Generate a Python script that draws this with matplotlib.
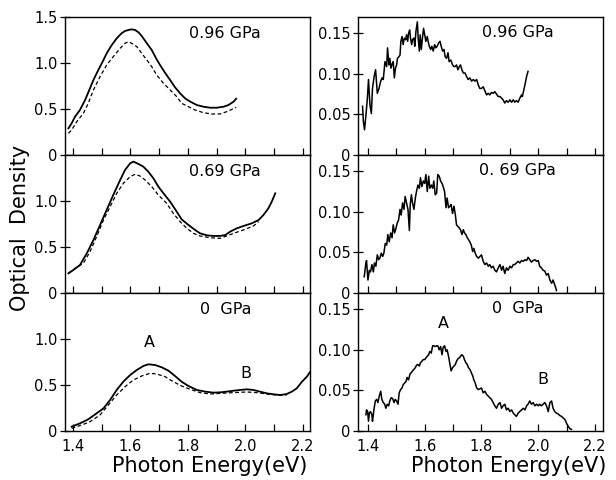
import matplotlib
matplotlib.use("Agg")
import matplotlib.pyplot as plt

plt.rcParams['font.family'] = ['DejaVu Sans']

# ---------------- Left column: optical density (solid / dashed) ----------------
# 0.96 GPa
l96_solid_x = [1.384, 1.395, 1.407, 1.424, 1.442, 1.459, 1.471, 1.488, 1.506, 1.517, 1.535, 1.552, 1.569, 1.581,
               1.593, 1.604, 1.616, 1.628, 1.639, 1.657, 1.674, 1.691, 1.703, 1.720, 1.738, 1.755, 1.773, 1.790,
               1.808, 1.831, 1.854, 1.877, 1.901, 1.924, 1.941, 1.959, 1.968]
l96_solid_y = [0.290, 0.344, 0.417, 0.489, 0.598, 0.725, 0.815, 0.924, 1.033, 1.105, 1.196, 1.268, 1.323, 1.348,
               1.359, 1.366, 1.359, 1.333, 1.294, 1.214, 1.141, 1.040, 0.978, 0.895, 0.815, 0.736, 0.670, 0.616,
               0.580, 0.543, 0.525, 0.514, 0.514, 0.525, 0.543, 0.580, 0.612]
l96_dash_x = [1.384, 1.395, 1.413, 1.436, 1.453, 1.471, 1.494, 1.517, 1.540, 1.564, 1.581, 1.593, 1.604, 1.622,
              1.639, 1.657, 1.674, 1.691, 1.715, 1.738, 1.761, 1.778, 1.802, 1.825, 1.854, 1.883, 1.912, 1.935,
              1.953, 1.968]
l96_dash_y = [0.236, 0.272, 0.362, 0.453, 0.562, 0.707, 0.852, 0.978, 1.069, 1.160, 1.214, 1.232, 1.214, 1.178,
              1.105, 1.033, 0.960, 0.870, 0.779, 0.707, 0.634, 0.562, 0.525, 0.489, 0.460, 0.446, 0.446, 0.471,
              0.496, 0.518]
# 0.69 GPa
l69_solid_x = [1.384, 1.401, 1.424, 1.448, 1.471, 1.494, 1.517, 1.540, 1.564, 1.581, 1.599, 1.610, 1.628, 1.645,
               1.662, 1.680, 1.697, 1.715, 1.738, 1.761, 1.778, 1.802, 1.825, 1.842, 1.866, 1.889, 1.912, 1.930,
               1.947, 1.970, 1.993, 2.022, 2.046, 2.063, 2.080, 2.092, 2.104]
l69_solid_y = [0.214, 0.250, 0.304, 0.431, 0.576, 0.739, 0.902, 1.065, 1.228, 1.337, 1.410, 1.428, 1.402, 1.373,
               1.319, 1.246, 1.156, 1.083, 0.993, 0.884, 0.801, 0.739, 0.685, 0.649, 0.627, 0.620, 0.620, 0.630,
               0.667, 0.703, 0.728, 0.757, 0.793, 0.848, 0.920, 0.993, 1.083]
l69_dash_x = [1.384, 1.407, 1.436, 1.459, 1.482, 1.506, 1.529, 1.552, 1.575, 1.599, 1.616, 1.633, 1.651, 1.674,
              1.697, 1.726, 1.749, 1.773, 1.796, 1.819, 1.842, 1.877, 1.912, 1.935, 1.959, 1.993, 2.028, 2.046]
l69_dash_y = [0.214, 0.268, 0.323, 0.449, 0.612, 0.794, 0.938, 1.083, 1.192, 1.265, 1.290, 1.272, 1.228, 1.156,
              1.065, 0.975, 0.866, 0.775, 0.703, 0.649, 0.620, 0.601, 0.594, 0.620, 0.649, 0.685, 0.728, 0.775]
# 0 GPa
l0_solid_x = [1.395, 1.424, 1.453, 1.482, 1.506, 1.529, 1.552, 1.575, 1.599, 1.622, 1.645, 1.662, 1.686, 1.709,
              1.732, 1.755, 1.778, 1.802, 1.831, 1.860, 1.889, 1.912, 1.935, 1.959, 1.982, 2.005, 2.028, 2.051,
              2.075, 2.098, 2.121, 2.144, 2.162, 2.179, 2.197, 2.214, 2.226]
l0_solid_y = [0.047, 0.083, 0.127, 0.192, 0.246, 0.337, 0.446, 0.536, 0.609, 0.663, 0.707, 0.725, 0.717, 0.692,
              0.656, 0.598, 0.536, 0.489, 0.446, 0.428, 0.417, 0.420, 0.428, 0.438, 0.446, 0.453, 0.446, 0.428,
              0.409, 0.399, 0.391, 0.402, 0.428, 0.464, 0.536, 0.590, 0.645]
l0_dash_x = [1.395, 1.430, 1.459, 1.494, 1.523, 1.552, 1.581, 1.610, 1.639, 1.668, 1.691, 1.720, 1.749, 1.778,
             1.808, 1.842, 1.877, 1.912, 1.959, 2.005, 2.040, 2.075, 2.109, 2.144]
l0_dash_y = [0.029, 0.065, 0.101, 0.174, 0.283, 0.391, 0.482, 0.554, 0.598, 0.627, 0.620, 0.591, 0.536, 0.489,
             0.453, 0.417, 0.402, 0.409, 0.417, 0.424, 0.417, 0.402, 0.391, 0.391]

# ---------------- Right column: difference spectra ----------------
r96_x = [1.381, 1.384, 1.388, 1.393, 1.398, 1.402, 1.407, 1.412, 1.416, 1.422, 1.427, 1.433, 1.439, 1.445,
         1.450, 1.454, 1.460, 1.466, 1.469, 1.474, 1.477, 1.481, 1.486, 1.489, 1.493, 1.497, 1.501, 1.504,
         1.509, 1.513, 1.516, 1.520, 1.524, 1.528, 1.533, 1.536, 1.540, 1.543, 1.547, 1.550, 1.554, 1.557,
         1.562, 1.565, 1.569, 1.574, 1.577, 1.581, 1.584, 1.588, 1.592, 1.596, 1.600, 1.604, 1.609, 1.612,
         1.616, 1.621, 1.625, 1.630, 1.635, 1.639, 1.644, 1.649, 1.654, 1.658, 1.663, 1.668, 1.672, 1.677,
         1.682, 1.686, 1.692, 1.698, 1.703, 1.708, 1.712, 1.717, 1.722, 1.726, 1.731, 1.736, 1.742, 1.747,
         1.753, 1.759, 1.765, 1.771, 1.777, 1.783, 1.789, 1.794, 1.800, 1.806, 1.812, 1.818, 1.824, 1.829,
         1.835, 1.841, 1.847, 1.853, 1.859, 1.865, 1.871, 1.876, 1.882, 1.888, 1.894, 1.900, 1.906, 1.912,
         1.917, 1.923, 1.929, 1.935, 1.941, 1.944, 1.949, 1.954, 1.959, 1.964]
r96_y = [0.060, 0.041, 0.031, 0.049, 0.070, 0.093, 0.062, 0.051, 0.082, 0.097, 0.105, 0.076, 0.082, 0.091,
         0.095, 0.093, 0.115, 0.109, 0.132, 0.111, 0.119, 0.107, 0.113, 0.115, 0.095, 0.107, 0.111, 0.119,
         0.121, 0.123, 0.140, 0.146, 0.136, 0.144, 0.142, 0.148, 0.140, 0.150, 0.154, 0.144, 0.136, 0.142,
         0.144, 0.134, 0.152, 0.164, 0.144, 0.128, 0.148, 0.130, 0.144, 0.156, 0.148, 0.140, 0.146, 0.140,
         0.134, 0.130, 0.134, 0.128, 0.136, 0.132, 0.134, 0.138, 0.140, 0.134, 0.128, 0.130, 0.121, 0.119,
         0.126, 0.115, 0.117, 0.111, 0.109, 0.109, 0.111, 0.105, 0.109, 0.111, 0.105, 0.101, 0.101, 0.097,
         0.093, 0.095, 0.091, 0.093, 0.091, 0.093, 0.086, 0.082, 0.082, 0.084, 0.079, 0.074, 0.076, 0.074,
         0.077, 0.076, 0.078, 0.075, 0.072, 0.072, 0.070, 0.068, 0.064, 0.067, 0.065, 0.068, 0.065, 0.068,
         0.065, 0.067, 0.065, 0.070, 0.074, 0.072, 0.080, 0.088, 0.097, 0.103]

r69_x = [1.387, 1.392, 1.395, 1.400, 1.405, 1.409, 1.414, 1.419, 1.423, 1.428, 1.433, 1.438, 1.442, 1.447,
         1.452, 1.456, 1.461, 1.466, 1.470, 1.475, 1.480, 1.485, 1.489, 1.494, 1.499, 1.503, 1.508, 1.513,
         1.517, 1.522, 1.527, 1.531, 1.536, 1.541, 1.546, 1.549, 1.553, 1.557, 1.562, 1.567, 1.571, 1.576,
         1.581, 1.585, 1.590, 1.595, 1.600, 1.604, 1.609, 1.614, 1.618, 1.623, 1.628, 1.632, 1.637, 1.642,
         1.646, 1.651, 1.656, 1.661, 1.665, 1.670, 1.675, 1.679, 1.684, 1.689, 1.693, 1.698, 1.703, 1.708,
         1.712, 1.717, 1.722, 1.726, 1.731, 1.736, 1.740, 1.745, 1.750, 1.754, 1.759, 1.764, 1.769, 1.773,
         1.778, 1.783, 1.789, 1.800, 1.806, 1.812, 1.818, 1.824, 1.829, 1.835, 1.841, 1.847, 1.853, 1.859,
         1.865, 1.871, 1.876, 1.882, 1.888, 1.894, 1.900, 1.906, 1.912, 1.917, 1.923, 1.929, 1.935, 1.941,
         1.947, 1.953, 1.959, 1.964, 1.970, 1.976, 1.982, 1.988, 1.994, 2.000, 2.005, 2.011, 2.017, 2.023,
         2.029, 2.035, 2.041, 2.047, 2.052, 2.058, 2.062, 2.064]
r69_y = [0.020, 0.035, 0.040, 0.016, 0.028, 0.026, 0.035, 0.026, 0.037, 0.033, 0.047, 0.041, 0.043, 0.049,
         0.045, 0.049, 0.061, 0.059, 0.072, 0.063, 0.074, 0.068, 0.084, 0.074, 0.080, 0.086, 0.090, 0.103,
         0.096, 0.111, 0.103, 0.119, 0.111, 0.103, 0.077, 0.109, 0.121, 0.111, 0.103, 0.117, 0.125, 0.133,
         0.129, 0.142, 0.131, 0.138, 0.135, 0.146, 0.125, 0.144, 0.129, 0.133, 0.129, 0.138, 0.121, 0.123,
         0.146, 0.144, 0.138, 0.135, 0.131, 0.125, 0.105, 0.117, 0.105, 0.107, 0.109, 0.098, 0.107, 0.096,
         0.084, 0.082, 0.080, 0.078, 0.072, 0.078, 0.074, 0.072, 0.068, 0.066, 0.063, 0.059, 0.051, 0.055,
         0.049, 0.045, 0.043, 0.047, 0.039, 0.035, 0.037, 0.033, 0.035, 0.031, 0.033, 0.028, 0.026, 0.031,
         0.035, 0.028, 0.033, 0.024, 0.031, 0.028, 0.033, 0.031, 0.035, 0.035, 0.037, 0.039, 0.037, 0.040,
         0.039, 0.041, 0.040, 0.044, 0.041, 0.038, 0.040, 0.041, 0.039, 0.040, 0.033, 0.031, 0.028, 0.027,
         0.022, 0.024, 0.016, 0.012, 0.016, 0.010, 0.006, 0.003]

r0_x = [1.393, 1.395, 1.399, 1.402, 1.405, 1.409, 1.414, 1.416, 1.421, 1.426, 1.431, 1.435, 1.440, 1.445,
        1.449, 1.454, 1.459, 1.463, 1.468, 1.473, 1.477, 1.482, 1.487, 1.492, 1.496, 1.501, 1.506, 1.510,
        1.515, 1.520, 1.524, 1.529, 1.534, 1.538, 1.543, 1.548, 1.553, 1.557, 1.562, 1.567, 1.571, 1.576,
        1.581, 1.585, 1.590, 1.595, 1.600, 1.604, 1.609, 1.614, 1.618, 1.623, 1.628, 1.632, 1.637, 1.642,
        1.646, 1.651, 1.656, 1.661, 1.665, 1.670, 1.675, 1.679, 1.684, 1.689, 1.693, 1.698, 1.703, 1.708,
        1.712, 1.717, 1.722, 1.726, 1.731, 1.736, 1.740, 1.745, 1.750, 1.754, 1.759, 1.764, 1.769, 1.773,
        1.778, 1.783, 1.789, 1.800, 1.806, 1.812, 1.818, 1.824, 1.829, 1.835, 1.841, 1.847, 1.853, 1.859,
        1.865, 1.871, 1.876, 1.882, 1.888, 1.894, 1.900, 1.906, 1.912, 1.917, 1.923, 1.929, 1.935, 1.941,
        1.947, 1.953, 1.959, 1.964, 1.970, 1.976, 1.982, 1.988, 1.994, 2.000, 2.005, 2.011, 2.017, 2.023,
        2.029, 2.035, 2.041, 2.047, 2.052, 2.058, 2.064, 2.070, 2.076, 2.082, 2.088, 2.094, 2.099, 2.105,
        2.111, 2.117]
r0_y = [0.020, 0.026, 0.024, 0.012, 0.022, 0.024, 0.020, 0.012, 0.026, 0.037, 0.039, 0.035, 0.043, 0.049,
        0.039, 0.035, 0.033, 0.028, 0.033, 0.031, 0.037, 0.041, 0.040, 0.035, 0.039, 0.037, 0.033, 0.047,
        0.051, 0.053, 0.057, 0.059, 0.061, 0.066, 0.063, 0.070, 0.072, 0.074, 0.076, 0.078, 0.081, 0.082,
        0.080, 0.084, 0.086, 0.088, 0.088, 0.090, 0.092, 0.094, 0.098, 0.096, 0.105, 0.105, 0.104, 0.105,
        0.105, 0.100, 0.104, 0.094, 0.103, 0.105, 0.098, 0.100, 0.092, 0.082, 0.074, 0.078, 0.080, 0.082,
        0.086, 0.089, 0.090, 0.092, 0.094, 0.092, 0.088, 0.084, 0.082, 0.078, 0.076, 0.072, 0.068, 0.063,
        0.059, 0.053, 0.051, 0.053, 0.047, 0.049, 0.045, 0.043, 0.041, 0.039, 0.035, 0.031, 0.028, 0.033,
        0.035, 0.028, 0.031, 0.033, 0.026, 0.028, 0.024, 0.026, 0.022, 0.020, 0.018, 0.022, 0.024, 0.026,
        0.028, 0.026, 0.031, 0.033, 0.037, 0.033, 0.035, 0.031, 0.033, 0.031, 0.033, 0.031, 0.033, 0.035,
        0.031, 0.024, 0.035, 0.037, 0.028, 0.024, 0.022, 0.021, 0.019, 0.018, 0.016, 0.014, 0.010, 0.006,
        0.003, 0.002]

pressure_labels = ["0.96 GPa", "0.69 GPa", "0  GPa"]
right_pressure_labels = ["0.96 GPa", "0. 69 GPa", "0  GPa"]
x_ticks = [1.4, 1.5, 1.6, 1.7, 1.8, 1.9, 2.0, 2.1, 2.2]
x_ticklabels = ["1.4", "", "1.6", "", "1.8", "", "2.0", "", "2.2"]
left_yticks_top = [0, 0.5, 1.0, 1.5]
left_yticklabels_top = ["0", "0.5", "1.0", "1.5"]
left_yticks = [0, 0.5, 1.0]
left_yticklabels = ["0", "0.5", "1.0"]
right_yticks = [0, 0.05, 0.10, 0.15]
right_yticklabels = ["0", "0.05", "0.10", "0.15"]

W, H = 616, 480
fig = plt.figure(figsize=(W / 100, H / 100), dpi=100)

rows = [(17, 155), (155, 293), (293, 431)]
lx0, lx1 = 65, 310
rx0, rx1 = 358, 603

def mkax(x0, x1, top, bot):
    return fig.add_axes([x0 / W, 1 - bot / H, (x1 - x0) / W, (bot - top) / H])

left_solid = [(l96_solid_x, l96_solid_y), (l69_solid_x, l69_solid_y), (l0_solid_x, l0_solid_y)]
left_dash = [(l96_dash_x, l96_dash_y), (l69_dash_x, l69_dash_y), (l0_dash_x, l0_dash_y)]
right_data = [(r96_x, r96_y), (r69_x, r69_y), (r0_x, r0_y)]

tick_fs = 10.5
lab_fs = 11.5
for i, (top, bot) in enumerate(rows):
    # left
    ax = mkax(lx0, lx1, top, bot)
    sx, sy = left_solid[i]
    dx, dy = left_dash[i]
    ax.plot(sx, sy, color='black', lw=1.3)
    ax.plot(dx, dy, color='black', lw=0.9, linestyle=(0, (3, 2)))
    ax.set_xlim(1.372, 2.225)
    ax.set_ylim(0, 1.5)
    ax.set_xticks(x_ticks)
    if i == 0:
        ax.set_yticks(left_yticks_top)
        ax.set_yticklabels(left_yticklabels_top)
    else:
        ax.set_yticks(left_yticks)
        ax.set_yticklabels(left_yticklabels)
    ax.text(1.930, 1.32, pressure_labels[i], ha='center', va='center', fontsize=lab_fs)
    if i == 2:
        ax.set_xticklabels(x_ticklabels)
        ax.text(1.665, 0.96, "A", ha='center', va='center', fontsize=lab_fs)
        ax.text(2.003, 0.63, "B", ha='center', va='center', fontsize=lab_fs)
    else:
        ax.set_xticklabels([])
    ax.tick_params(axis='x', direction='in', length=5, width=0.9, labelsize=tick_fs, pad=6)
    ax.tick_params(axis='y', direction='inout', length=7, width=0.9, labelsize=tick_fs, pad=2)
    for s in ax.spines.values():
        s.set_linewidth(1.0)

    # right
    ax = mkax(rx0, rx1, top, bot)
    rx, ry = right_data[i]
    ax.plot(rx, ry, color='black', lw=1.1)
    ax.set_xlim(1.365, 2.228)
    ax.set_ylim(0, 0.17)
    ax.set_xticks(x_ticks)
    ax.set_yticks(right_yticks)
    ax.set_yticklabels(right_yticklabels)
    ax.text(1.928, 0.151, right_pressure_labels[i], ha='center', va='center', fontsize=lab_fs)
    if i == 2:
        ax.set_xticklabels(x_ticklabels)
        ax.text(1.664, 0.132, "A", ha='center', va='center', fontsize=lab_fs)
        ax.text(2.016, 0.063, "B", ha='center', va='center', fontsize=lab_fs)
    else:
        ax.set_xticklabels([])
    ax.tick_params(axis='x', direction='in', length=5, width=0.9, labelsize=tick_fs, pad=6)
    ax.tick_params(axis='y', direction='inout', length=7, width=0.9, labelsize=tick_fs, pad=2)
    for s in ax.spines.values():
        s.set_linewidth(1.0)

fig.text(20 / W, 1 - 228 / H, "Optical  Density", rotation=90, ha='center', va='center', fontsize=15)
fig.text(210 / W, 1 - 466 / H, "Photon Energy(eV)", ha='center', va='center', fontsize=15)
fig.text(509 / W, 1 - 466 / H, "Photon Energy(eV)", ha='center', va='center', fontsize=15)

fig.savefig("out.png", dpi=100)
